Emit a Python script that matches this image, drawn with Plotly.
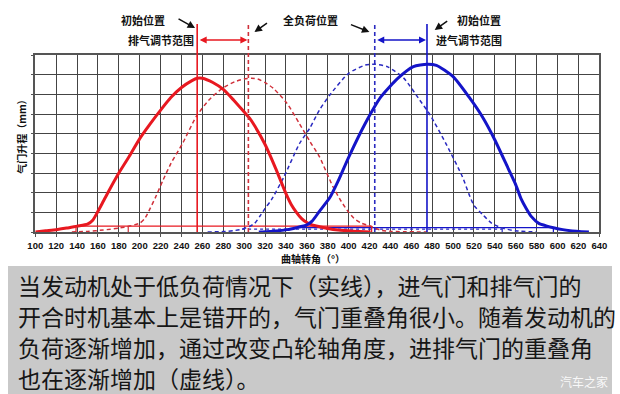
import plotly.graph_objects as go

W, H = 620, 394

# ---------------- data ----------------
ex_low_deg = [100, 110, 120, 130, 140, 150, 155, 160, 165, 170, 180, 190, 200, 210, 220, 230, 240, 250, 255,
              260, 270, 280, 290, 300, 305, 310, 320, 330, 340, 345, 350, 355, 360, 365, 372, 380, 390, 400, 410, 421]
ex_low_lift = [0, 0.06, 0.12, 0.2, 0.3, 0.4, 0.6, 1.05, 1.55, 2.05, 3.0, 3.85, 4.75, 5.5, 6.2, 6.85, 7.35, 7.7, 7.82,
               7.82, 7.6, 7.25, 6.7, 6.1, 5.8, 5.4, 4.45, 3.25, 1.95, 1.4, 1.0, 0.68, 0.48, 0.36, 0.27, 0.18, 0.1, 0.06, 0.03, 0]

ex_full_deg = [135, 150, 165, 180, 190, 200, 205, 210, 215, 222, 230, 241, 254, 266, 279, 291, 300, 307, 313, 320,
               328, 341, 353, 363, 372, 385, 393, 400, 405, 412, 420, 425, 432, 440, 475]
ex_full_lift = [0, 0.03, 0.1, 0.2, 0.3, 0.45, 0.7, 1.2, 1.75, 2.6, 3.5, 4.5, 5.86, 6.7, 7.3, 7.64, 7.78, 7.82, 7.78, 7.6,
                7.3, 6.54, 5.5, 4.6, 3.83, 2.3, 1.55, 1.0, 0.7, 0.45, 0.32, 0.2, 0.08, 0.03, 0]

in_full_deg = [265, 280, 290, 298, 305, 310, 315, 320, 326, 338, 353, 363, 372, 382, 400, 416, 425, 437, 453, 468,
               478, 493, 509, 515, 520, 528, 537, 547, 560, 580]
in_full_lift = [0, 0.02, 0.07, 0.14, 0.28, 0.44, 0.8, 1.2, 1.63, 2.8, 4.5, 5.3, 6.2, 6.97, 8.07, 8.49, 8.53, 8.41, 7.81, 6.71,
                5.95, 4.51, 2.8, 1.95, 1.35, 0.9, 0.44, 0.2, 0.06, 0]

in_low_deg = [314, 325, 341, 350, 360, 365, 372, 382, 390, 400, 416, 431, 447, 462, 475, 484, 500, 515, 528, 540,
              553, 560, 565, 570, 575, 582, 590, 596, 605, 612, 630]
in_low_lift = [0, 0.03, 0.12, 0.22, 0.36, 0.55, 1.05, 1.75, 2.6, 3.8, 5.53, 6.88, 7.81, 8.41, 8.53, 8.47, 7.9, 6.88, 5.86, 4.68,
               3.2, 2.4, 1.7, 1.2, 0.78, 0.44, 0.3, 0.22, 0.12, 0.07, 0]

# reference positions (crank angle, deg)
ex_initial, ex_fullload = 255, 304
in_fullload, in_initial = 425, 475

# level lines: (start, end, lift)
ex_low_level = (139, 422, 0.3)
in_low_level = (350, 596, 0.22)
in_full_level = (298, 547, 0.15)
ex_full_tick = 189

x_ticks = list(range(100, 641, 20))

caption_lines = [
    "当发动机处于低负荷情况下（实线），进气门和排气门的",
    "开合时机基本上是错开的，气门重叠角很小。随着发动机的",
    "负荷逐渐增加，通过改变凸轮轴角度，进排气门的重叠角",
    "也在逐渐增加（虚线）。",
]

RED = "#e81820"
RED_D = "#d0303a"
BLUE = "#1414c8"
BLUE_D = "#2a2ac0"
CJK = "Noto Sans CJK SC"


def py(px):
    return 1 - px / H


def pxx(px):
    return px / W


fig = go.Figure()

# level lines
fig.add_trace(go.Scatter(x=[ex_low_level[0], ex_low_level[1]], y=[ex_low_level[2]] * 2, mode="lines",
                         line=dict(color=RED, width=1.2), hoverinfo="skip"))
fig.add_trace(go.Scatter(x=[in_low_level[0], in_low_level[1]], y=[in_low_level[2]] * 2, mode="lines",
                         line=dict(color=BLUE, width=1.2), hoverinfo="skip"))
fig.add_trace(go.Scatter(x=[in_full_level[0], in_full_level[1]], y=[in_full_level[2]] * 2, mode="lines",
                         line=dict(color=BLUE_D, width=1.2, dash="3px,3px"), hoverinfo="skip"))
# small ticks
for xv, yv, col in [(ex_low_level[0], ex_low_level[2], RED),
                    (ex_low_level[1], ex_low_level[2], RED),
                    (ex_full_tick, ex_low_level[2], RED_D),
                    (in_low_level[1], in_low_level[2], BLUE),
                    (in_full_level[1], in_full_level[2], BLUE_D)]:
    fig.add_trace(go.Scatter(x=[xv, xv], y=[0, yv], mode="lines", line=dict(color=col, width=1.2),
                             hoverinfo="skip"))

# curves
fig.add_trace(go.Scatter(x=ex_full_deg, y=ex_full_lift, mode="lines",
                         line=dict(color=RED_D, width=1.5, dash="4px,3px", shape="spline", smoothing=0.6)))
fig.add_trace(go.Scatter(x=in_full_deg, y=in_full_lift, mode="lines",
                         line=dict(color=BLUE_D, width=1.5, dash="4px,3px", shape="spline", smoothing=0.6)))
fig.add_trace(go.Scatter(x=ex_low_deg, y=ex_low_lift, mode="lines",
                         line=dict(color=RED, width=3, shape="spline", smoothing=0.6)))
fig.add_trace(go.Scatter(x=in_low_deg, y=in_low_lift, mode="lines",
                         line=dict(color=BLUE, width=3, shape="spline", smoothing=0.6)))

plot_top_px, plot_bot_px = 55, 232
line_top_px = 24
arrow_px = 40

shapes = []
# caption background
shapes.append(dict(type="rect", xref="paper", yref="paper", x0=0, x1=1, y0=0, y1=py(266),
                   fillcolor="#c9c9c9", line=dict(width=0), layer="below"))
# vertical reference lines
for xv, col, dsh in [(ex_initial, RED, "solid"), (ex_fullload, RED_D, "4px,3px"),
                     (in_fullload, BLUE_D, "4px,3px"), (in_initial, BLUE, "solid")]:
    shapes.append(dict(type="line", xref="x", yref="paper", x0=xv, x1=xv, y0=py(plot_bot_px), y1=py(line_top_px),
                       line=dict(color=col, width=1.6, dash=dsh), layer="above"))

annotations = []
# double-headed range arrows
for a, b, col in [(ex_initial, ex_fullload, RED), (in_fullload, in_initial, BLUE)]:
    annotations.append(dict(x=b, y=py(arrow_px), xref="x", yref="paper", ax=a, ay=0, axref="x", ayref="pixel",
                            text="", showarrow=True, arrowhead=2, startarrowhead=2, arrowside="end+start",
                            arrowsize=1, startarrowsize=1, arrowwidth=1.4, arrowcolor=col, standoff=1, startstandoff=1))

hdr_font = dict(family=CJK, size=11, color="#111", weight="bold")
C = dict(xref="paper", yref="paper", showarrow=False, xanchor="center", yanchor="middle")
annotations += [
    dict(x=pxx(139), y=py(20), text="初始位置", font=hdr_font, **C),
    dict(x=pxx(157), y=py(40), text="排气调节范围", font=hdr_font, **C),
    dict(x=pxx(310), y=py(20), text="全负荷位置", font=hdr_font, **C),
    dict(x=pxx(483), y=py(20), text="初始位置", font=hdr_font, **C),
    dict(x=pxx(473), y=py(40), text="进气调节范围", font=hdr_font, **C),
]
# black pointer arrows (head position, tail offset in px)
for hx, hy, dx, dy in [(192, 28, -18, -10), (253, 32, 14, -10), (371, 32, -20, -8), (438, 30, 14, -10)]:
    annotations.append(dict(x=pxx(hx), y=py(hy), xref="paper", yref="paper", ax=dx, ay=dy, text="",
                            showarrow=True, arrowhead=2, arrowsize=1, arrowwidth=1.5, arrowcolor="#111"))

# axis titles
annotations.append(dict(x=pxx(313), y=py(258), text="曲轴转角（°）",
                        font=dict(family=CJK, size=10, color="#111", weight="bold"), **C))
annotations.append(dict(x=pxx(13), y=py(134), text="气门升程（mm）", textangle=-90,
                        font=dict(family=CJK, size=10, color="#111", weight="bold"), **C))

# caption
for i, t in enumerate(caption_lines):
    annotations.append(dict(x=pxx(8), y=py(285 + i * 31), xref="paper", yref="paper", text=t, showarrow=False,
                            xanchor="left", yanchor="middle", font=dict(family=CJK, size=23, color="#161616")))
# watermark
annotations.append(dict(x=pxx(591), y=py(381), text="汽车之家",
                        font=dict(family=CJK, size=12, color="rgba(255,255,255,0.9)"), **C))

fig.update_layout(
    width=W, height=H, margin=dict(l=0, r=0, t=0, b=0),
    paper_bgcolor="white", plot_bgcolor="white", showlegend=False,
    shapes=shapes, annotations=annotations,
    xaxis=dict(domain=[pxx(28), pxx(607)], range=[100, 640], tickvals=x_ticks, showgrid=True,
               gridcolor="#444444", gridwidth=1, showline=True, linecolor="#555", linewidth=1.5, mirror=True,
               ticks="outside", ticklen=3, tickcolor="#555", zeroline=False, ticklabelstandoff=1,
               tickfont=dict(family="Liberation Sans", size=9.5, color="#111", weight="bold")),
    yaxis=dict(domain=[py(plot_bot_px), py(plot_top_px)], range=[0, 9], dtick=1, showgrid=True,
               gridcolor="#444444", gridwidth=1, showline=True, linecolor="#555", linewidth=1.5, mirror=True,
               ticks="outside", ticklen=3, tickcolor="#555", showticklabels=False, zeroline=False),
)

fig.write_html("out.html", config={"displayModeBar": False},
               post_script=("document.documentElement.style.margin='0';"
                            "document.body.style.margin='0';document.body.style.padding='0';"
                            "document.body.style.overflow='hidden';"))
